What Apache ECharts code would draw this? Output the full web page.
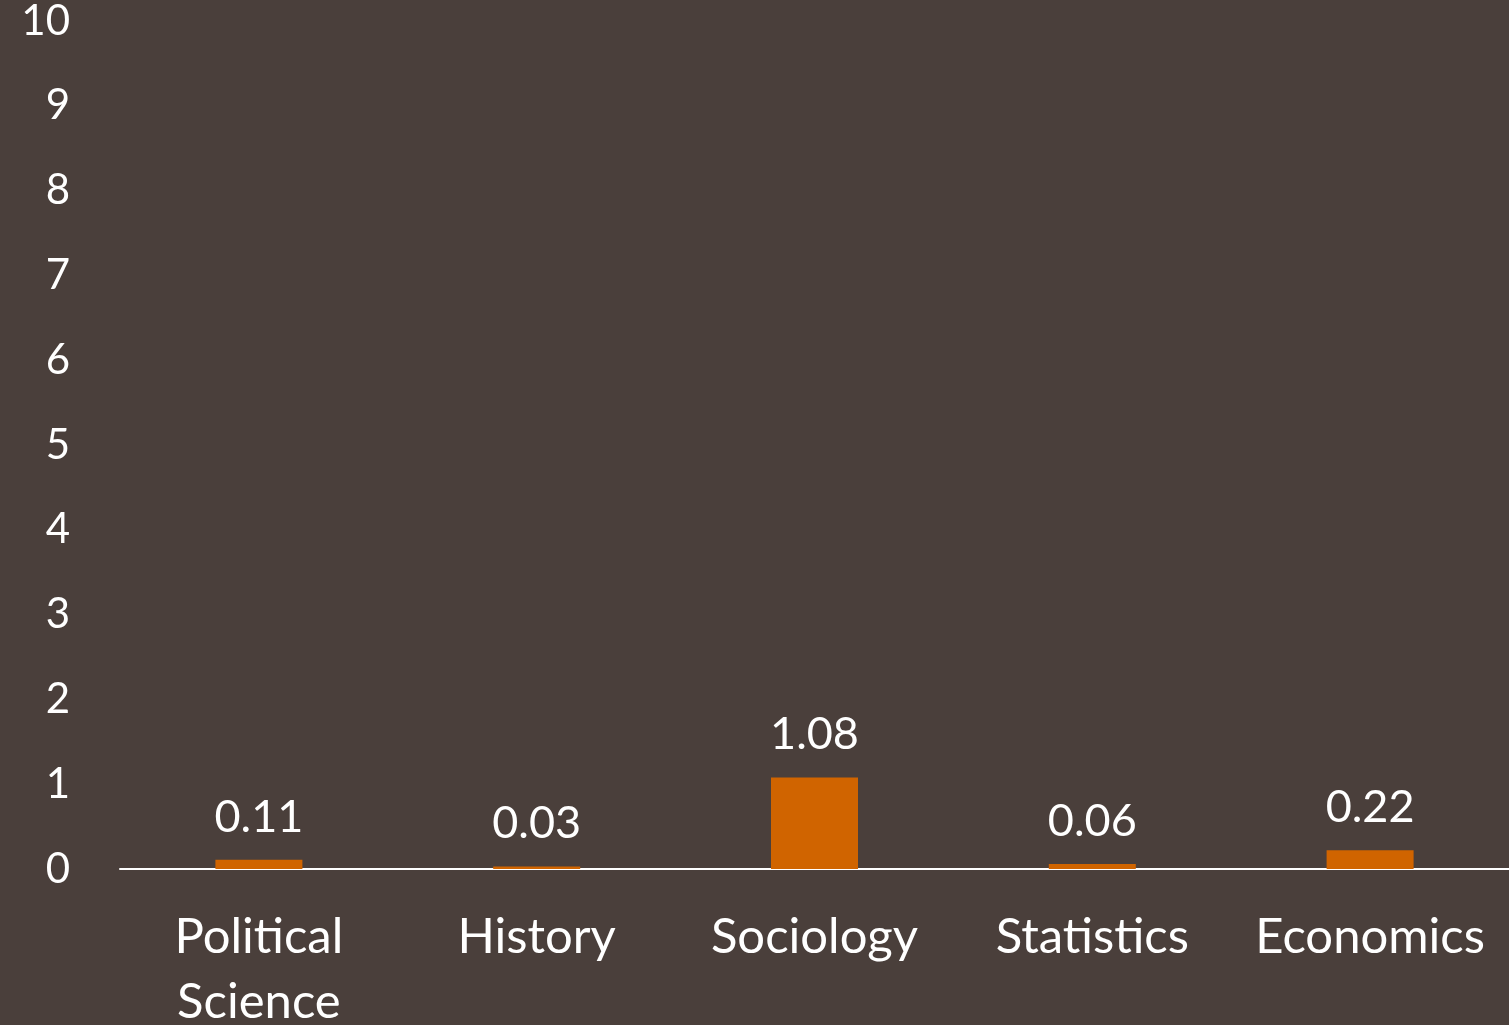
<!DOCTYPE html>
<html>
<head>
<meta charset="utf-8">
<script src="https://cdn.jsdelivr.net/npm/echarts@6/dist/echarts.min.js"></script>
<style>
  html, body { margin: 0; padding: 0; background: #4a3f3b; }
  #chart { width: 1509px; height: 1025px; }
</style>
</head>
<body>
<div id="chart"></div>
<script>
const categories = ['Political\nScience', 'History', 'Sociology', 'Statistics', 'Economics']
const values = [0.11, 0.03, 1.08, 0.06, 0.22]
const yTicks = [0, 1, 2, 3, 4, 5, 6, 7, 8, 9, 10]

const chart = echarts.init(document.getElementById('chart'))
chart.setOption({
  backgroundColor: '#4a3f3b',
  textStyle: { fontFamily: 'Lato' },
  grid: { left: 120, right: 0, top: 21, bottom: 156, containLabel: false, outerBoundsMode: 'none' },
  xAxis: {
    type: 'category',
    data: categories,
    axisLine: { lineStyle: { color: '#ffffff', width: 2 } },
    axisTick: { show: false },
    axisLabel: {
      color: '#ffffff',
      fontSize: 49,
      lineHeight: 65,
      margin: 36,
      interval: 0
    }
  },
  yAxis: {
    type: 'value',
    min: yTicks[0],
    max: yTicks[yTicks.length - 1],
    interval: 1,
    splitLine: { show: false },
    axisLine: { show: false },
    axisTick: { show: false },
    axisLabel: { color: '#ffffff', fontSize: 42, margin: 50 }
  },
  series: [{
    type: 'bar',
    data: values,
    barWidth: 87,
    itemStyle: { color: '#d06400' },
    label: {
      show: true,
      position: 'top',
      color: '#ffffff',
      fontSize: 45,
      distance: 20
    }
  }]
})
</script>
</body>
</html>
